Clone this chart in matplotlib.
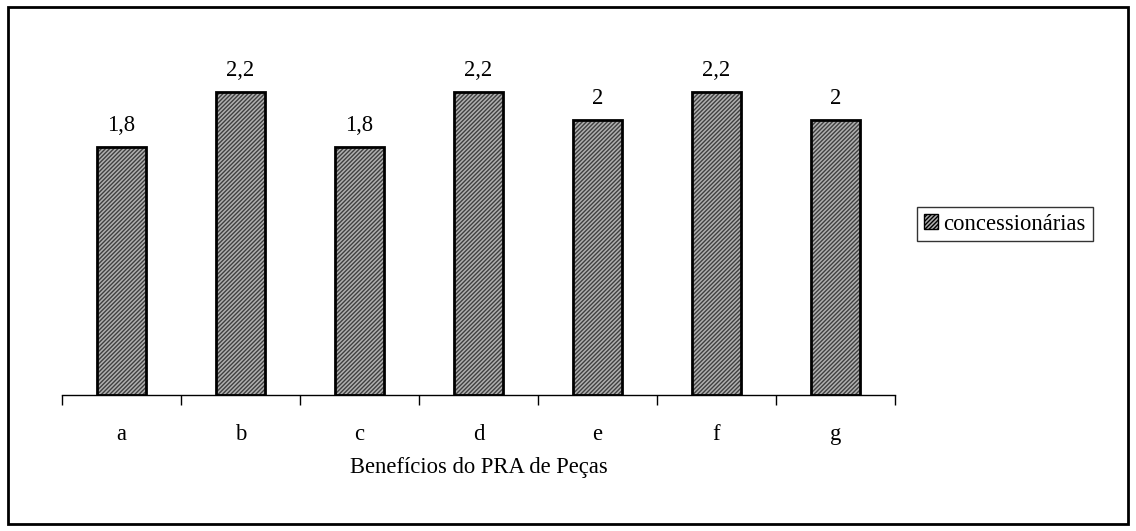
import matplotlib
matplotlib.use("Agg")
import matplotlib.pyplot as plt
from matplotlib.patches import Rectangle, Patch
import numpy as np

categories = ["a", "b", "c", "d", "e", "f", "g"]
values = [1.8, 2.2, 1.8, 2.2, 2.0, 2.2, 2.0]
value_labels = ["1,8", "2,2", "1,8", "2,2", "2", "2,2", "2"]
series_name = "concessionárias"
xlabel = "Benefícios do PRA de Peças"

plt.rcParams["font.family"] = ["Liberation Serif", "DejaVu Serif"]
plt.rcParams["hatch.linewidth"] = 1.0

FS = 16.3
W, H = 1136, 531
fig = plt.figure(figsize=(W / 100, H / 100), dpi=100)

# outer frame
fig.patches.append(Rectangle((8 / W, 7 / H), 1120 / W, 517 / H, transform=fig.transFigure,
                             fill=False, edgecolor="black", linewidth=2.0))

ax = fig.add_axes([62 / W, 1 - 395 / H, (895 - 62) / W, (395 - 51) / H])
x = np.arange(len(categories))
ax.bar(x, values, width=0.42, color="#b0b0b0", edgecolor="#404040", hatch="////////", linewidth=0)
ax.bar(x, values, width=0.42, fill=False, edgecolor="black", linewidth=2.0)

for xi, v, lab in zip(x, values, value_labels):
    ax.text(xi, v + 0.115, lab, ha="center", va="baseline", fontsize=FS)

ax.set_xlim(-0.5, len(categories) - 0.5)
ax.set_ylim(0, 2.5)
for s in ["top", "right", "left"]:
    ax.spines[s].set_visible(False)
ax.spines["bottom"].set_linewidth(1.0)
ax.set_yticks([])
ax.set_xticks(np.arange(-0.5, len(categories), 1.0))
ax.set_xticklabels([])
ax.set_xticks(x, minor=True)
ax.set_xticklabels(categories, minor=True, fontsize=FS)
ax.tick_params(axis="x", which="major", direction="out", length=7, width=1)
ax.tick_params(axis="x", which="minor", length=0, pad=21)
ax.set_xlabel(xlabel, fontsize=FS, labelpad=8.5)

handle = Patch(facecolor="#b0b0b0", edgecolor="black", hatch="////////", linewidth=1.0)
leg = fig.legend([handle], [series_name], loc="center left", bbox_to_anchor=(917 / W, 1 - 224 / H),
                 frameon=True, fancybox=False, edgecolor="black", fontsize=FS,
                 handlelength=0.62, handleheight=0.62, handletextpad=0.25, borderpad=0.3,
                 borderaxespad=0)
leg.get_frame().set_linewidth(1.0)

fig.savefig("out.png", dpi=100)
